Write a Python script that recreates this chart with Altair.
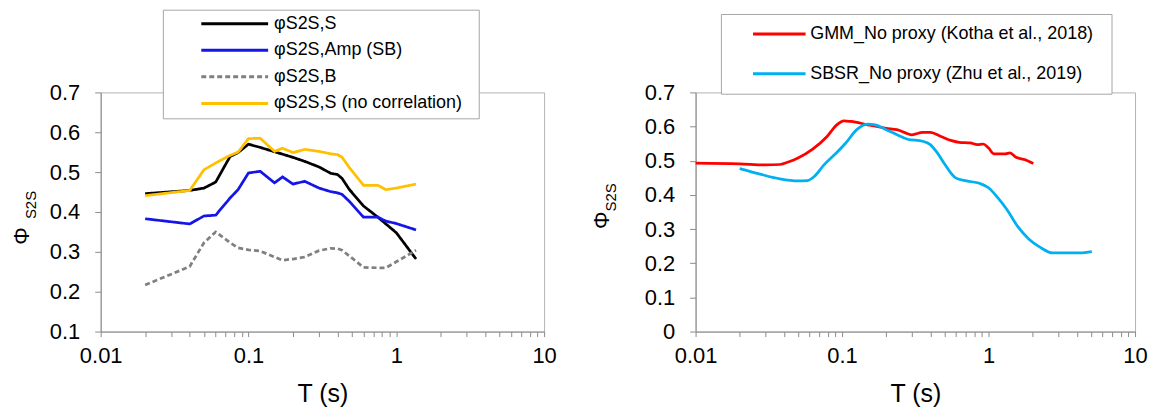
import altair as alt
import pandas as pd

FONT = "Liberation Sans"

# ---------------- Left panel data ----------------
T_left = [0.02, 0.04, 0.05, 0.06, 0.075, 0.085, 0.1, 0.12, 0.15, 0.17, 0.2,
          0.24, 0.3, 0.36, 0.4, 0.43, 0.48, 0.6, 0.75, 0.85, 1.0, 1.36]
phi_S = [0.446, 0.454, 0.460, 0.475, 0.539, 0.549, 0.570, 0.562, 0.551, 0.545, 0.537,
         0.527, 0.513, 0.497, 0.494, 0.484, 0.457, 0.415, 0.387, 0.370, 0.348, 0.282]
phi_Amp = [0.383, 0.370, 0.390, 0.392, 0.435, 0.456, 0.498, 0.502, 0.473, 0.488, 0.470,
           0.477, 0.460, 0.451, 0.448, 0.444, 0.427, 0.387, 0.387, 0.377, 0.371, 0.355]
phi_B = [0.217, 0.263, 0.323, 0.350, 0.323, 0.310, 0.305, 0.302, 0.287, 0.279, 0.282,
         0.287, 0.303, 0.309, 0.308, 0.304, 0.290, 0.261, 0.260, 0.260, 0.275, 0.304]
phi_S_nocorr = [0.441, 0.454, 0.506, 0.523, 0.542, 0.550, 0.584, 0.585, 0.552, 0.560, 0.549,
                0.557, 0.552, 0.546, 0.544, 0.537, 0.512, 0.467, 0.467, 0.456, 0.460, 0.470]
left_names = ["φS2S,S", "φS2S,Amp (SB)", "φS2S,B", "φS2S,S (no correlation)"]
left_colors = ["#000000", "#1515E8", "#808080", "#FFC000"]
left_dashes = [[1, 0], [1, 0], [5, 3], [1, 0]]

# ---------------- Right panel data ----------------
T_gmm = [0.01, 0.02, 0.03, 0.0376, 0.0434, 0.05, 0.063, 0.079, 0.092, 0.103, 0.115,
         0.15, 0.2, 0.237, 0.3, 0.355, 0.4, 0.473, 0.56, 0.63, 0.75, 0.84, 0.917,
         1.0, 1.09, 1.3, 1.4, 1.54, 1.78, 2.02]
phi_gmm = [0.493, 0.491, 0.488, 0.489, 0.497, 0.508, 0.534, 0.571, 0.605, 0.617, 0.615,
           0.605, 0.595, 0.591, 0.576, 0.583, 0.583, 0.571, 0.559, 0.554, 0.552, 0.547, 0.549,
           0.537, 0.520, 0.520, 0.523, 0.510, 0.503, 0.492]
T_sbsr = [0.02, 0.028, 0.0376, 0.05, 0.058, 0.065, 0.075, 0.089, 0.106, 0.126, 0.15,
          0.168, 0.2, 0.237, 0.28, 0.355, 0.4, 0.447, 0.5, 0.596, 0.708, 0.866, 1.0,
          1.155, 1.33, 1.585, 1.88, 2.24, 2.74, 3.35, 4.2, 5.07]
phi_sbsr = [0.477, 0.460, 0.447, 0.441, 0.442, 0.455, 0.487, 0.518, 0.552, 0.591, 0.607,
            0.605, 0.591, 0.576, 0.563, 0.557, 0.547, 0.523, 0.491, 0.450, 0.441, 0.434, 0.421,
            0.392, 0.358, 0.307, 0.271, 0.247, 0.230, 0.230, 0.230, 0.234]
right_names = ["GMM_No proxy (Kotha et al., 2018)", "SBSR_No proxy (Zhu et al., 2019)"]
right_colors = ["#FF0000", "#00B0F0"]

# ---------------- Axis ticks ----------------
x_ticks = [0.01, 0.02, 0.03, 0.04, 0.05, 0.06, 0.07, 0.08, 0.09,
           0.1, 0.2, 0.3, 0.4, 0.5, 0.6, 0.7, 0.8, 0.9,
           1, 2, 3, 4, 5, 6, 7, 8, 9, 10]
y_ticks_left = [0.1, 0.2, 0.3, 0.4, 0.5, 0.6, 0.7]
y_ticks_right = [0, 0.1, 0.2, 0.3, 0.4, 0.5, 0.6, 0.7]
x_title = "T (s)"
y_title_main = "Φ"
y_title_sub = "S2S"

# ---------------- Tables ----------------
left_rows = []
for name, vals in zip(left_names, [phi_S, phi_Amp, phi_B, phi_S_nocorr]):
    for t, v in zip(T_left, vals):
        left_rows.append({"T": t, "phi": v, "series": name})
left_df = pd.DataFrame(left_rows)

right_rows = []
for name, ts, vals in zip(right_names, [T_gmm, T_sbsr], [phi_gmm, phi_sbsr]):
    for t, v in zip(ts, vals):
        right_rows.append({"T": t, "phi": v, "series": name})
right_df = pd.DataFrame(right_rows)

decade_expr = ("abs(log(datum.value)/log(10) - round(log(datum.value)/log(10))) < 0.001"
               " ? format(datum.value, '~g') : ''")


def x_enc():
    return alt.X(
        "T:Q",
        scale=alt.Scale(type="log", domain=[0.01, 10], nice=False),
        axis=alt.Axis(values=x_ticks, labelExpr=decade_expr, title=x_title,
                      labelFlush=False, labelOverlap=False, tickSize=5,
                      labelPadding=9, titlePadding=15),
    )


def make_legend(x, y, padding, sym_size, sym_offset, label_offset, row_pad,
                spacer_size, spacer_pad):
    # an invisible title on the right widens the box to the reference's right margin
    return alt.Legend(
        title="x", titleOrient="right", titleOpacity=0,
        titleFontSize=spacer_size, titlePadding=spacer_pad, titleFont=FONT,
        orient="none", legendX=x, legendY=y, direction="vertical",
        padding=padding, symbolType="stroke", symbolSize=sym_size,
        symbolStrokeWidth=3, symbolOffset=sym_offset, labelOffset=label_offset,
        rowPadding=row_pad, clipHeight=18, labelFontSize=18, labelFont=FONT,
        labelColor="#000000", labelLimit=600, fillColor="white", strokeColor="#a6a6a6",
    )


def y_title_layers(main_x, main_y, sub_x, sub_y):
    main = alt.Chart(pd.DataFrame({"t": [y_title_main]})).mark_text(
        angle=270, font=FONT, fontSize=22, align="center", baseline="middle",
        color="#000000").encode(x=alt.value(main_x), y=alt.value(main_y), text="t:N")
    sub = alt.Chart(pd.DataFrame({"t": [y_title_sub]})).mark_text(
        angle=270, font=FONT, fontSize=15, align="center", baseline="middle",
        color="#000000").encode(x=alt.value(sub_x), y=alt.value(sub_y), text="t:N")
    return main, sub


# ---------------- Left chart ----------------
left_legend = make_legend(62.4, -83, 5, 4500, 31.6, 4, 8.7, 12, 5)
left_lines = alt.Chart(left_df).mark_line(strokeWidth=2.75).encode(
    x=x_enc(),
    y=alt.Y("phi:Q", scale=alt.Scale(domain=[0.1, 0.7], nice=False, zero=False),
            axis=alt.Axis(values=y_ticks_left, format=".1f", title=None,
                          tickSize=6, labelPadding=15)),
    color=alt.Color("series:N", scale=alt.Scale(domain=left_names, range=left_colors),
                    legend=left_legend),
    strokeDash=alt.StrokeDash("series:N", scale=alt.Scale(domain=left_names, range=left_dashes),
                              legend=left_legend),
)
lm, ls = y_title_layers(-79.3, 144, -69.8, 113)
left_chart = alt.layer(left_lines, lm, ls).properties(width=445, height=240)

# ---------------- Right chart ----------------
right_legend = make_legend(25.4, -78.7, 11, 2780, 19.6, 3, 22, 10, 1)
right_lines = alt.Chart(right_df).mark_line(strokeWidth=2.75, interpolate="monotone").encode(
    x=x_enc(),
    y=alt.Y("phi:Q", scale=alt.Scale(domain=[0, 0.7], nice=False),
            axis=alt.Axis(values=y_ticks_right, title=None, tickSize=6, labelPadding=15,
                          labelExpr="datum.value == 0 ? '0' : format(datum.value, '.1f')")),
    color=alt.Color("series:N", scale=alt.Scale(domain=right_names, range=right_colors),
                    legend=right_legend),
)
rm, rs = y_title_layers(-94.3, 128.3, -85.3, 105.3)
right_chart = alt.layer(right_lines, rm, rs).properties(width=441, height=240)

chart = alt.hconcat(left_chart, right_chart, spacing=152, bounds="flush").resolve_scale(
    color="independent", strokeDash="independent", x="independent", y="independent"
).properties(padding={"left": 2, "top": 0, "right": 0, "bottom": 0}).configure_view(
    stroke="#b3b3b3"
).configure_axis(
    grid=False, labelFont=FONT, titleFont=FONT, labelFontSize=22, titleFontSize=25,
    titleFontWeight="normal", labelColor="#000000", titleColor="#000000",
    domainColor="#8c8c8c", tickColor="#8c8c8c", domainWidth=1, tickWidth=1,
)

chart.save("out.html", embed_options={"renderer": "svg", "actions": False})
